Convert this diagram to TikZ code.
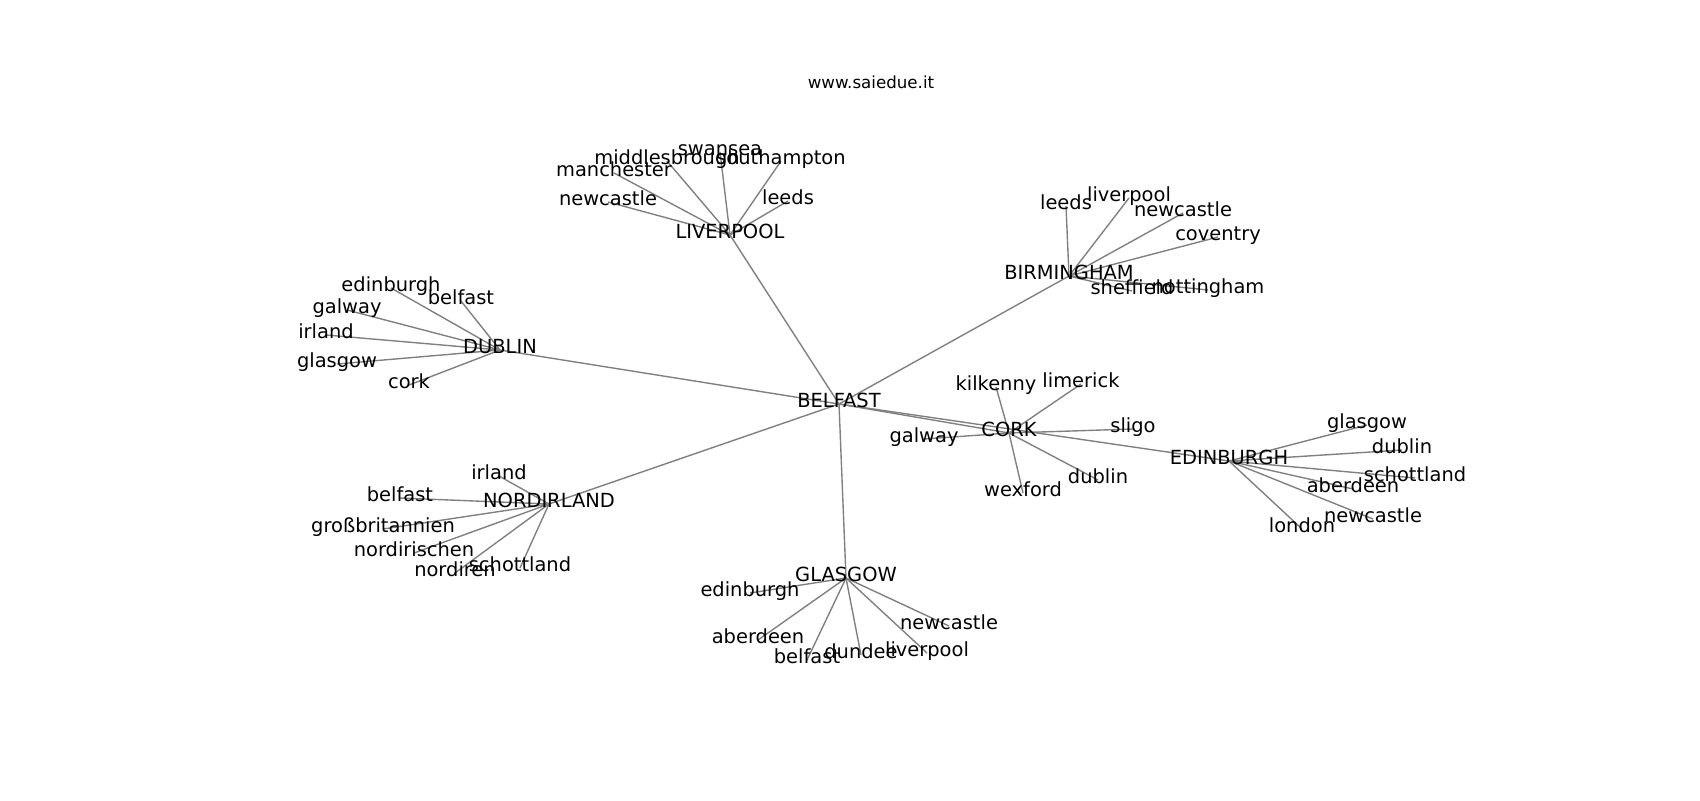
\documentclass[tikz,border=0pt]{standalone}
\usepackage{fontspec}
\setmainfont{DejaVu Sans}
\pgfdeclarelayer{bg}
\pgfsetlayers{bg,main}
\definecolor{edgegray}{RGB}{128,128,128}
\begin{document}
\begin{tikzpicture}[x=0.72pt,y=-0.72pt,
  lbl/.style={font=\fontsize{14}{17}\selectfont, inner sep=0pt, text height=0.76em, text depth=0.208em, anchor=center},
  ttl/.style={font=\fontsize{12}{14}\selectfont, inner sep=0pt, text height=0.76em, text depth=0.208em, anchor=center},
  edge/.style={draw=edgegray, line width=1pt}]
\useasboundingbox (0,-3) rectangle (1700,797);
\node[ttl] (title) at (871,82) {www.saiedue.it};
% hubs
\node[lbl] (B) at (839,401) {BELFAST};
\node[lbl] (L) at (730,232) {LIVERPOOL};
\node[lbl] (BI) at (1069,273) {BIRMINGHAM};
\node[lbl] (D) at (500,347) {DUBLIN};
\node[lbl] (C) at (1009,430) {CORK};
\node[lbl] (E) at (1229,458) {EDINBURGH};
\node[lbl] (N) at (549,501) {NORDIRLAND};
\node[lbl] (G) at (846,575) {GLASGOW};
% LIVERPOOL leaves
\node[lbl] (L1) at (720,149) {swansea};
\node[lbl] (L2) at (667,158) {middlesbrough};
\node[lbl] (L3) at (781,158) {southampton};
\node[lbl] (L4) at (614,170) {manchester};
\node[lbl] (L5) at (608,199) {newcastle};
\node[lbl] (L6) at (788,198) {leeds};
% BIRMINGHAM leaves
\node[lbl] (BI1) at (1066,203) {leeds};
\node[lbl] (BI2) at (1129,195) {liverpool};
\node[lbl] (BI3) at (1183,210) {newcastle};
\node[lbl] (BI4) at (1218,234) {coventry};
\node[lbl] (BI5) at (1132,288) {sheffield};
\node[lbl] (BI6) at (1208,287) {nottingham};
% DUBLIN leaves
\node[lbl] (D1) at (391,285) {edinburgh};
\node[lbl] (D2) at (461,298) {belfast};
\node[lbl] (D3) at (347,307) {galway};
\node[lbl] (D4) at (326,332) {irland};
\node[lbl] (D5) at (337,361) {glasgow};
\node[lbl] (D6) at (409,382) {cork};
% CORK leaves
\node[lbl] (C1) at (996,384) {kilkenny};
\node[lbl] (C2) at (1081,381) {limerick};
\node[lbl] (C3) at (1133,426) {sligo};
\node[lbl] (C4) at (924,436) {galway};
\node[lbl] (C5) at (1023,490) {wexford};
\node[lbl] (C6) at (1098,477) {dublin};
% EDINBURGH leaves
\node[lbl] (E1) at (1367,422) {glasgow};
\node[lbl] (E2) at (1402,447) {dublin};
\node[lbl] (E3) at (1415,475) {schottland};
\node[lbl] (E4) at (1353,486) {aberdeen};
\node[lbl] (E5) at (1373,516) {newcastle};
\node[lbl] (E6) at (1302,526) {london};
% NORDIRLAND leaves
\node[lbl] (N1) at (499,473) {irland};
\node[lbl] (N2) at (400,495) {belfast};
\node[lbl] (N3) at (383,526) {großbritannien};
\node[lbl] (N4) at (414,550) {nordirischen};
\node[lbl] (N5) at (455,570) {nordiren};
\node[lbl] (N6) at (520,565) {schottland};
% GLASGOW leaves
\node[lbl] (G1) at (750,590) {edinburgh};
\node[lbl] (G2) at (758,637) {aberdeen};
\node[lbl] (G3) at (807,657) {belfast};
\node[lbl] (G4) at (861,652) {dundee};
\node[lbl] (G5) at (927,650) {liverpool};
\node[lbl] (G6) at (949,623) {newcastle};
\begin{pgfonlayer}{bg}
\fill[white] (0,-3) rectangle (1700,797);
\foreach \a/\b in {B/L,B/BI,B/D,B/N,B/G,B/C,B/E,
  L/L1,L/L2,L/L3,L/L4,L/L5,L/L6,
  BI/BI1,BI/BI2,BI/BI3,BI/BI4,BI/BI5,BI/BI6,
  D/D1,D/D2,D/D3,D/D4,D/D5,D/D6,
  C/C1,C/C2,C/C3,C/C4,C/C5,C/C6,
  E/E1,E/E2,E/E3,E/E4,E/E5,E/E6,
  N/N1,N/N2,N/N3,N/N4,N/N5,N/N6,
  G/G1,G/G2,G/G3,G/G4,G/G5,G/G6}
  \draw[edge] (\a.center) -- (\b.center);
\end{pgfonlayer}
\end{tikzpicture}
\end{document}
